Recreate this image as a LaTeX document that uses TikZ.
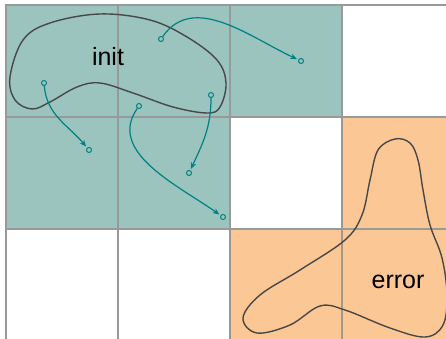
\documentclass[tikz,border=0pt]{standalone}
\usepackage{fontspec}
\setmainfont{Liberation Sans}
\usetikzlibrary{arrows.meta}
\definecolor{cellteal}{RGB}{155,196,191}
\definecolor{cellorange}{RGB}{251,199,148}
\definecolor{gridgray}{RGB}{153,153,153}
\definecolor{blobgray}{RGB}{72,72,72}
\definecolor{flowteal}{RGB}{0,128,128}
\begin{document}
\begin{tikzpicture}[x=1pt, y=1pt, font=\fontsize{25}{30}\selectfont,
          cell/.style={draw=none, minimum size=112pt, inner sep=0pt, anchor=north west},
          blob/.style={draw=blobgray, line width=1.4pt},
          pt/.style={circle, draw=flowteal, line width=1pt, minimum size=5pt, inner sep=0pt},
          flow/.style={-{Stealth[length=6.5pt, width=5.5pt, inset=2pt]}, draw=flowteal, line width=1.2pt, shorten >=1.5pt}]
        \useasboundingbox (0,0) rectangle (446,339);
        \clip (0,0) rectangle (446,339);
        % shaded cells
        \foreach \ci/\cj in {0/0,1/0,2/0,0/1,1/1}
          \node[cell, fill=cellteal] (t\ci\cj) at (5.5+112*\ci,334-112*\cj) {};
        \foreach \ci/\cj in {3/1,2/2,3/2}
          \node[cell, fill=cellorange] (o\ci\cj) at (5.5+112*\ci,334-112*\cj) {};
        % grid
        \foreach \gx in {0,...,4}
          \draw[gridgray, line width=2pt] (5.5+112*\gx,-10) -- (5.5+112*\gx,335);
        \foreach \gy in {0,...,3}
          \draw[gridgray, line width=2pt] (4.5,334-112*\gy) -- (470,334-112*\gy);
        % regions
        \draw[blob] plot[smooth cycle, tension=0.6] coordinates {(100,325) (150,319) (187,302) (217,279) (226,256) (220,232) (207,226) (173,232) (133,246) (100,256) (77,252) (50,237) (32,230) (15,239) (10,262) (23,299) (50,316)};
        \draw[blob] plot[smooth cycle, tension=0.6] coordinates {(395,200) (378,189) (370,159) (362,124) (345,99) (300,69) (260,44) (243,21) (257,6) (290,14) (320,33) (345,29) (390,11) (425,2) (443,14) (447,44) (442,81) (430,114) (423,149) (418,179) (410,196)};
        \node (init) at (108,282) {init};
        \node (err) at (398,57) {error};
        % transitions
        \node[pt] (a1) at (161,300) {};
        \node[pt] (b1) at (301,278) {};
        \node[pt] (a2) at (44,256) {};
        \node[pt] (b2) at (89,189) {};
        \node[pt] (a3) at (139,233) {};
        \node[pt] (b3) at (223,122) {};
        \node[pt] (a4) at (211,244) {};
        \node[pt] (b4) at (189,166) {};
        \draw[flow] (a1) to[out=55, in=155] (b1);
        \draw[flow] (a2) to[out=-85, in=130] (b2);
        \draw[flow] (a3) to[out=-125, in=145] (b3);
        \draw[flow] (a4) to[out=-90, in=65] (b4);
      \end{tikzpicture}
\end{document}
